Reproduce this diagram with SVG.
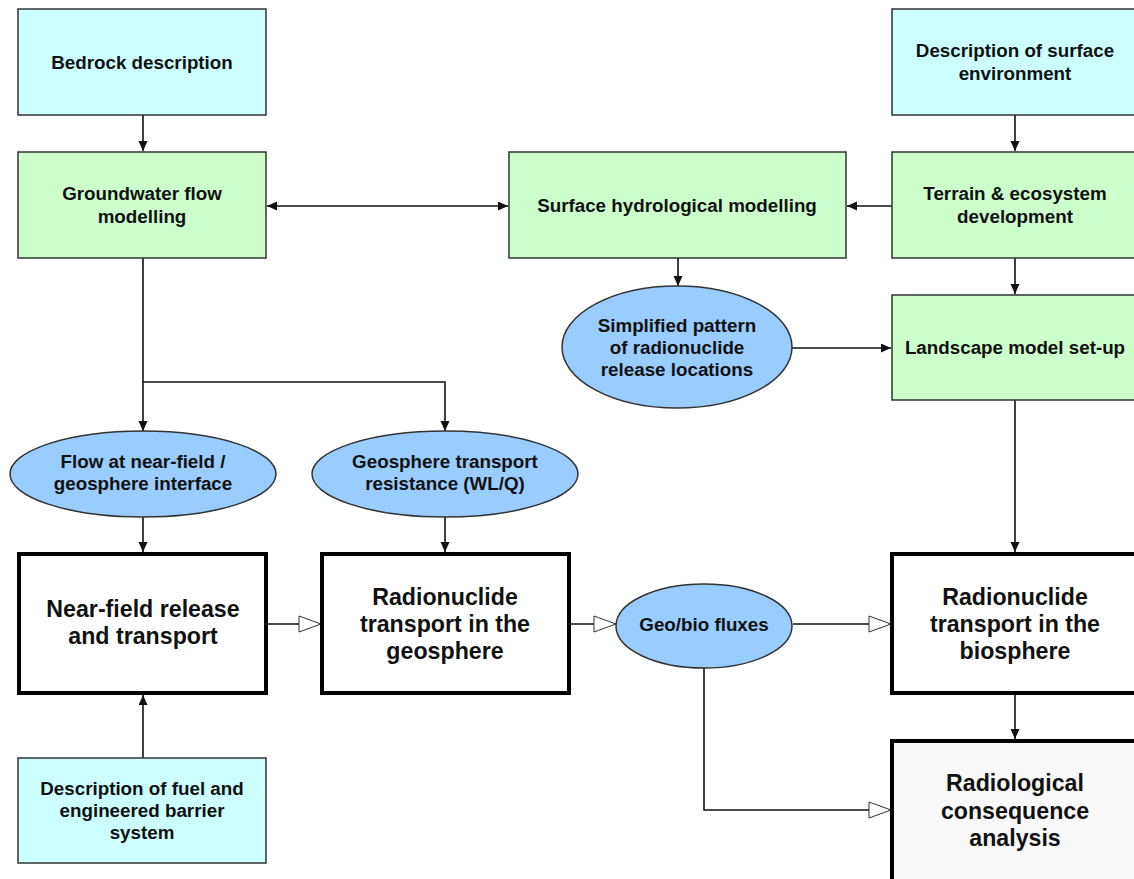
<svg xmlns="http://www.w3.org/2000/svg" width="1134" height="879" viewBox="0 0 1134 879">
  <style>
    text { font-family: "Liberation Sans", Arial, sans-serif; font-weight: bold; fill: #111; text-anchor: middle; }
    .s { font-size: 18.8px; }
    .b { font-size: 23.2px; }
    .cyan { fill: #ccffff; stroke: #333; stroke-width: 1.5; }
    .green { fill: #ccffcc; stroke: #333; stroke-width: 1.5; }
    .oval { fill: #99ccff; stroke: #333; stroke-width: 1.5; }
    .main { fill: #ffffff; stroke: #000; stroke-width: 4; }
    .result { fill: #f9f9f9; stroke: #000; stroke-width: 4; }
    .link { fill: none; stroke: #111; stroke-width: 1.6; }
  </style>
  <defs>
    <marker id="arr" markerUnits="userSpaceOnUse" markerWidth="11" markerHeight="10" refX="10" refY="4.5" orient="auto-start-reverse">
      <path d="M0,0 L10,4.5 L0,9 z" fill="#111"/>
    </marker>
    <marker id="open" markerUnits="userSpaceOnUse" markerWidth="26" markerHeight="20" refX="23" refY="9" orient="auto">
      <path d="M1,1 L23,9 L1,17 z" fill="#fff" stroke="#333" stroke-width="1"/>
    </marker>
  </defs>

  <rect width="1134" height="879" fill="#ffffff"/>

  <!-- connectors -->
  <g id="connectors">
    <path class="link" d="M143,115 V151" marker-end="url(#arr)"/>
    <path class="link" d="M267,206 H508" marker-start="url(#arr)" marker-end="url(#arr)"/>
    <path class="link" d="M892,206 H847" marker-end="url(#arr)"/>
    <path class="link" d="M1015,115 V151" marker-end="url(#arr)"/>
    <path class="link" d="M1015,258 V294" marker-end="url(#arr)"/>
    <path class="link" d="M678,258 V286" marker-end="url(#arr)"/>
    <path class="link" d="M792,348 H891" marker-end="url(#arr)"/>
    <path class="link" d="M143,258 V431" marker-end="url(#arr)"/>
    <path class="link" d="M143,382 H445 V431" marker-end="url(#arr)"/>
    <path class="link" d="M143,517 V552" marker-end="url(#arr)"/>
    <path class="link" d="M445,517 V552" marker-end="url(#arr)"/>
    <path class="link" d="M143,758 V695" marker-end="url(#arr)"/>
    <path class="link" d="M1015,400 V552" marker-end="url(#arr)"/>
    <path class="link" d="M1015,695 V739" marker-end="url(#arr)"/>
    <path class="link" d="M266,624 H321" marker-end="url(#open)"/>
    <path class="link" d="M569,624 H616" marker-end="url(#open)"/>
    <path class="link" d="M793,624 H891" marker-end="url(#open)"/>
    <path class="link" d="M704,668 V810 H891" marker-end="url(#open)"/>
  </g>

  <g id="bedrock">
    <rect class="cyan" x="18" y="9" width="248" height="106"/>
    <text class="s" x="142" y="69">Bedrock description</text>
  </g>

  <g id="groundwater">
    <rect class="green" x="18" y="152" width="248" height="106"/>
    <text class="s" x="142" y="200">Groundwater flow</text>
    <text class="s" x="142" y="223">modelling</text>
  </g>

  <g id="surface-hydro">
    <rect class="green" x="509" y="152" width="337" height="106"/>
    <text class="s" x="677" y="212">Surface hydrological modelling</text>
  </g>

  <g id="surface-env">
    <rect class="cyan" x="892" y="9" width="248" height="106"/>
    <text class="s" x="1015" y="57">Description of surface</text>
    <text class="s" x="1015" y="80">environment</text>
  </g>

  <g id="terrain">
    <rect class="green" x="892" y="152" width="248" height="106"/>
    <text class="s" x="1015" y="200">Terrain &amp; ecosystem</text>
    <text class="s" x="1015" y="223">development</text>
  </g>

  <g id="landscape">
    <rect class="green" x="892" y="295" width="248" height="105"/>
    <text class="s" x="1015" y="354">Landscape model set-up</text>
  </g>

  <g id="release-pattern">
    <ellipse class="oval" cx="677" cy="347" rx="115" ry="61"/>
    <text class="s" x="677" y="332">Simplified pattern</text>
    <text class="s" x="677" y="354">of radionuclide</text>
    <text class="s" x="677" y="376">release locations</text>
  </g>

  <g id="nearfield-flow">
    <ellipse class="oval" cx="143" cy="474" rx="133" ry="43"/>
    <text class="s" x="143" y="468">Flow at near-field /</text>
    <text class="s" x="143" y="490">geosphere interface</text>
  </g>

  <g id="transport-resistance">
    <ellipse class="oval" cx="445" cy="474" rx="133" ry="43"/>
    <text class="s" x="445" y="468">Geosphere transport</text>
    <text class="s" x="445" y="490">resistance (WL/Q)</text>
  </g>

  <g id="nearfield">
    <rect class="main" x="19" y="554" width="247" height="139"/>
    <text class="b" x="143" y="617">Near-field release</text>
    <text class="b" x="143" y="644">and transport</text>
  </g>

  <g id="geosphere">
    <rect class="main" x="322" y="554" width="247" height="139"/>
    <text class="b" x="445" y="605">Radionuclide</text>
    <text class="b" x="445" y="632">transport in the</text>
    <text class="b" x="445" y="659">geosphere</text>
  </g>

  <g id="geobio">
    <ellipse class="oval" cx="704" cy="626" rx="88" ry="42"/>
    <text class="s" x="704" y="631">Geo/bio fluxes</text>
  </g>

  <g id="biosphere">
    <rect class="main" x="892" y="554" width="250" height="139"/>
    <text class="b" x="1015" y="605">Radionuclide</text>
    <text class="b" x="1015" y="632">transport in the</text>
    <text class="b" x="1015" y="659">biosphere</text>
  </g>

  <g id="consequence">
    <rect class="result" x="892" y="741" width="250" height="150"/>
    <text class="b" x="1015" y="791">Radiological</text>
    <text class="b" x="1015" y="819">consequence</text>
    <text class="b" x="1015" y="846">analysis</text>
  </g>

  <g id="fuel-ebs">
    <rect class="cyan" x="18" y="758" width="248" height="105"/>
    <text class="s" x="142" y="795">Description of fuel and</text>
    <text class="s" x="142" y="817">engineered barrier</text>
    <text class="s" x="142" y="839">system</text>
  </g>
</svg>
